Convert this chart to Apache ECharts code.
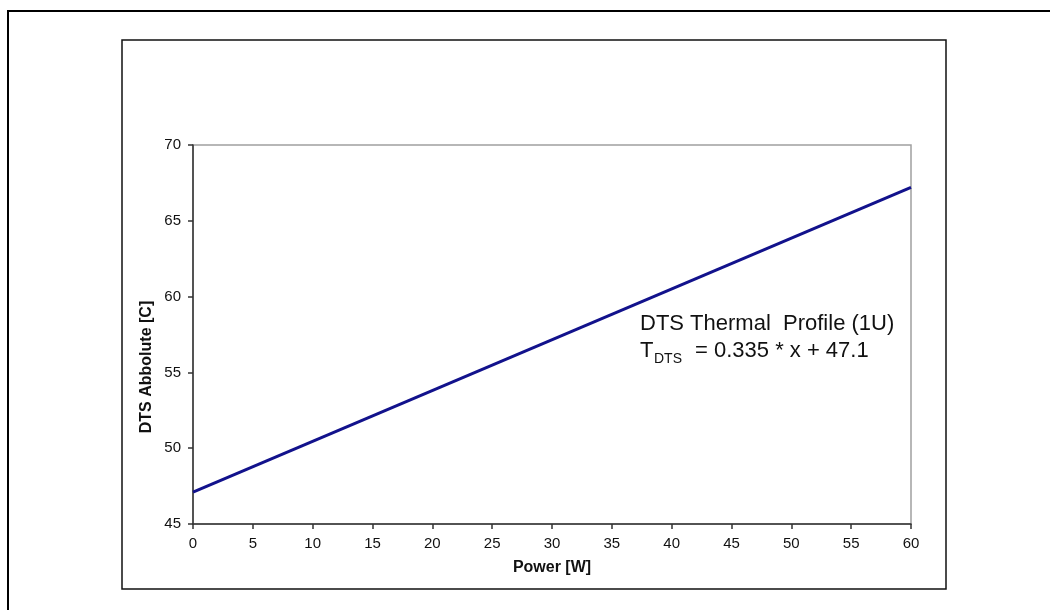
<!DOCTYPE html>
<html>
<head>
<meta charset="utf-8">
<script src="https://cdn.jsdelivr.net/npm/echarts@6/dist/echarts.min.js"></script>
<style>
html,body{margin:0;padding:0;background:#fff;}
#c{width:1050px;height:610px;}
</style>
</head>
<body>
<div id="c"></div>
<script>
var powerW = [0, 60];
var dtsC = [47.1, 67.2];
var xTicks = [0, 5, 10, 15, 20, 25, 30, 35, 40, 45, 50, 55, 60];
var yTicks = [45, 50, 55, 60, 65, 70];
var xTitle = 'Power [W]';
var yTitle = 'DTS Abbolute [C]';
var noteLine1 = 'DTS Thermal  Profile (1U)';
var noteT = 'T';
var noteSub = 'DTS';
var noteEq = '= 0.335 * x + 47.1';

var chart = echarts.init(document.getElementById('c'), null, {renderer: 'canvas'});
var font = 'Arial, "Liberation Sans", sans-serif';
var pts = powerW.map(function (x, i) { return [x, dtsC[i]]; });

chart.setOption({
  animation: false,
  backgroundColor: '#fff',
  grid: {left: 193, right: 139, top: 145, bottom: 86, show: true, borderColor: '#a0a0a0', borderWidth: 1.5, backgroundColor: 'transparent'},
  xAxis: {
    type: 'value', min: xTicks[0], max: xTicks[xTicks.length - 1], interval: 5,
    axisLine: {show: true, onZero: false, lineStyle: {color: '#333', width: 1.5}},
    axisTick: {show: true, length: 5, inside: false, lineStyle: {color: '#333', width: 1.5}},
    axisLabel: {margin: 12, fontSize: 15, color: '#111', fontFamily: font},
    splitLine: {show: false},
    name: xTitle, nameLocation: 'middle', nameGap: 36,
    nameTextStyle: {fontSize: 16, fontWeight: 'bold', color: '#111', fontFamily: font}
  },
  yAxis: {
    type: 'value', min: yTicks[0], max: yTicks[yTicks.length - 1], interval: 5,
    axisLine: {show: true, onZero: false, lineStyle: {color: '#333', width: 1.5}},
    axisTick: {show: true, length: 5, inside: false, lineStyle: {color: '#333', width: 1.5}},
    axisLabel: {margin: 12, fontSize: 15, color: '#111', fontFamily: font},
    splitLine: {show: false}
  },
  series: [{
    type: 'line', data: pts, showSymbol: false, symbol: 'none',
    lineStyle: {color: '#12128c', width: 3}
  }],
  graphic: [
    {type: 'rect', silent: true, z: -10, shape: {x: 8, y: 11, width: 1100, height: 700}, style: {fill: 'none', stroke: '#000', lineWidth: 2}},
    {type: 'rect', silent: true, z: -10, shape: {x: 122, y: 40, width: 824, height: 549}, style: {fill: 'none', stroke: '#111', lineWidth: 1.5}},
    {type: 'text', x: 147, y: 367, rotation: Math.PI / 2, style: {text: yTitle, font: 'bold 16px ' + font, fill: '#111', align: 'center', verticalAlign: 'middle'}},
    {type: 'text', x: 640, y: 324, style: {text: noteLine1, font: '22px ' + font, fill: '#111', align: 'left', verticalAlign: 'middle'}},
    {type: 'text', x: 640, y: 351, style: {text: noteT, font: '22px ' + font, fill: '#111', align: 'left', verticalAlign: 'middle'}},
    {type: 'text', x: 654, y: 359, style: {text: noteSub, font: '14px ' + font, fill: '#111', align: 'left', verticalAlign: 'middle'}},
    {type: 'text', x: 695, y: 351, style: {text: noteEq, font: '22px ' + font, fill: '#111', align: 'left', verticalAlign: 'middle'}}
  ]
});
</script>
</body>
</html>
